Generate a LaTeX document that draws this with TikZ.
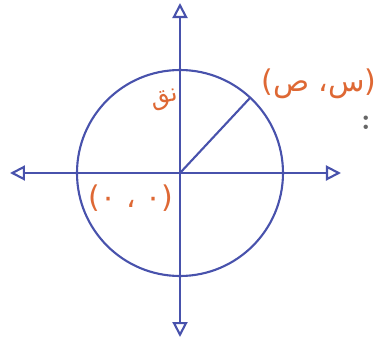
\documentclass[tikz,border=0pt]{standalone}
\usepackage{fontspec}
\usepackage{xcolor}
\usepackage{tikz}
\usetikzlibrary{positioning,calc,arrows.meta}
\TeXXeTstate=1
\newfontfamily\arabicfont[Script=Arabic]{DejaVu Sans}
\definecolor{axisblue}{RGB}{72,82,172}
\definecolor{labelorange}{RGB}{222,104,52}

\begin{document}
\begin{tikzpicture}[
    axis/.style={axisblue, line width=1.2pt, {Triangle[open, length=3mm, width=3mm]}-{Triangle[open, length=3mm, width=3mm]}},
    lbl/.style={labelorange, font=\arabicfont\fontsize{17}{19}\selectfont}
  ]
  \useasboundingbox (-3.6, -3.34) rectangle (3.92, 3.46);
  % axes
  \coordinate (O) at (0, 0);
  \coordinate (xl) at (-3.4, 0);
  \coordinate (xr) at (3.22, 0);
  \coordinate (yt) at (0, 3.4);
  \coordinate (yb) at (0, -3.28);
  \draw[axis] (xl) -- (xr);
  \draw[axis] (yb) -- (yt);
  % unit circle and radius
  \draw[axisblue, line width=1.2pt] (O) circle (2.06);
  \coordinate (P) at (47:2.06);
  \draw[axisblue, line width=1.2pt] (O) -- (P);
  % labels
  \node[lbl] (pt) at (2.78, 1.78) {\beginR(س، ص)\endR};
  \node[lbl, rotate=15, font=\arabicfont\fontsize{14}{16}\selectfont] (r) at (-0.3, 1.46) {\beginR نق\endR};
  \node[lbl] (org) at (-0.98, -0.5) {\beginR(٠ ، ٠)\endR};
  \node[black!60, font=\bfseries\LARGE] (dots) at (3.72, 1.0) {:};
\end{tikzpicture}
\end{document}
